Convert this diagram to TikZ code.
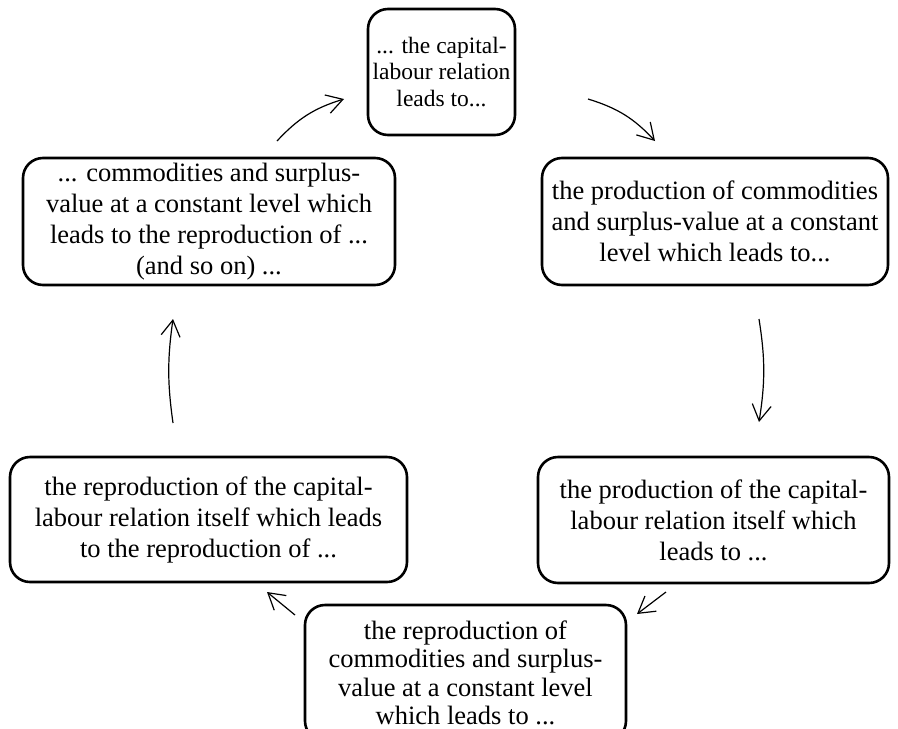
\documentclass[tikz,border=0pt]{standalone}
\usepackage{fontspec}
\setmainfont{Liberation Serif}
\usetikzlibrary{arrows.meta}
\begin{document}
\begin{tikzpicture}[x=1pt,y=1pt,
  stage/.style={draw, line width=2.6pt, rounded corners=20pt, align=center,
    inner sep=0pt, font=\fontsize{26.5}{31}\selectfont},
  flow/.style={line width=1.2pt,
    -{Straight Barb[length=16pt,width=19pt,line width=1.2pt]}}]
\useasboundingbox (0,0) rectangle (898,-729);
\clip (0,0) rectangle (898,-729);

% the six stages of the cycle
\node[stage, minimum width=147pt, minimum height=126pt,
  font=\fontsize{23.5}{26.5}\selectfont] (relation) at (441.5,-72)
  {... the capital-\\labour relation\\leads to...};
\node[stage, minimum width=346pt, minimum height=127pt] (production) at (715,-221.5)
  {the production of commodities\\and surplus-value at a constant\\level which leads to...};
\node[stage, minimum width=351pt, minimum height=126pt] (prodrel) at (713.5,-520)
  {the production of the capital-\\labour relation itself which\\leads to ...};
\node[stage, minimum width=321pt, minimum height=136pt,
  font=\fontsize{26.5}{28.5}\selectfont] (reprod) at (465.5,-673)
  {the reproduction of\\commodities and surplus-\\value at a constant level\\which leads to ...};
\node[stage, minimum width=397pt, minimum height=125pt] (reprel) at (208.5,-519.5)
  {the reproduction of the capital-\\labour relation itself which leads\\to the reproduction of ...};
\node[stage, minimum width=372pt, minimum height=127pt] (again) at (209,-221.5)
  {... commodities and surplus-\\value at a constant level which\\leads to the reproduction of ...\\(and so on) ...};

% free ends of the connecting arrows
\coordinate (relation-out) at (588,-99);
\coordinate (production-in) at (655,-141);
\coordinate (production-out) at (759,-319);
\coordinate (prodrel-in) at (759,-422);
\coordinate (prodrel-out) at (666,-592);
\coordinate (reprod-in) at (637,-614);
\coordinate (reprod-out) at (295,-615);
\coordinate (reprel-in) at (267,-592);
\coordinate (reprel-out) at (173,-423);
\coordinate (again-in) at (173,-319);
\coordinate (again-out) at (277,-141);
\coordinate (relation-in) at (344,-99);

\draw[flow] (relation-out) to[bend left=15] (production-in);
\draw[flow] (production-out) to[bend left=9] (prodrel-in);
\draw[flow] (prodrel-out) -- (reprod-in);
\draw[flow] (reprod-out) -- (reprel-in);
\draw[flow] (reprel-out) to[bend left=8] (again-in);
\draw[flow] (again-out) to[bend left=15] (relation-in);
\end{tikzpicture}
\end{document}
